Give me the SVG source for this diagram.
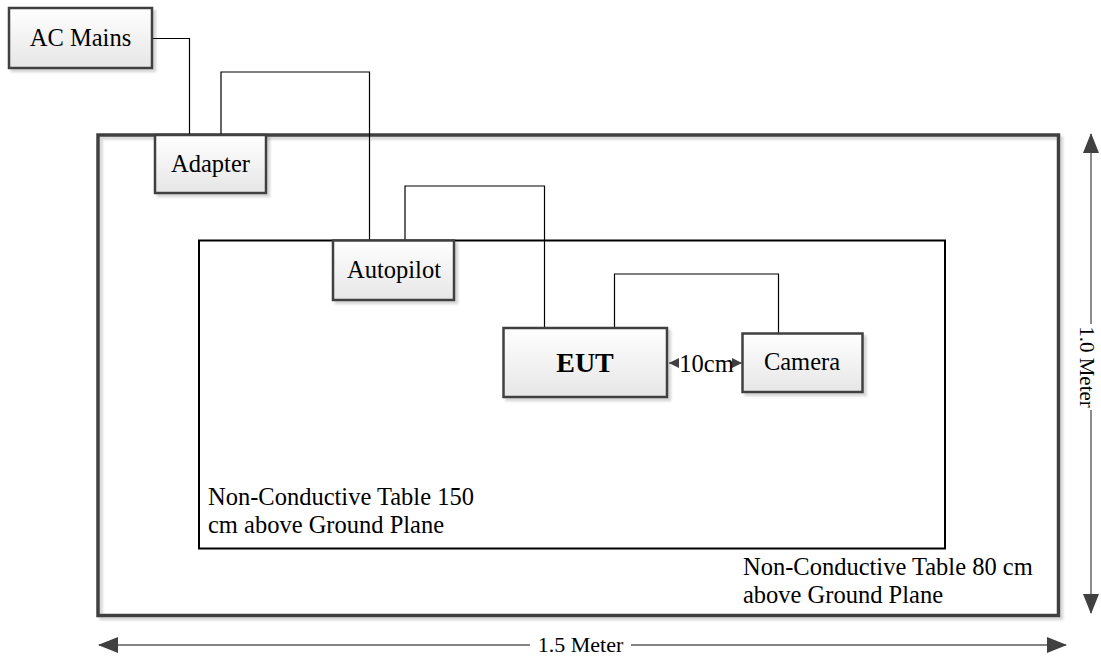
<svg xmlns="http://www.w3.org/2000/svg" width="1101" height="663" viewBox="0 0 1101 663">
<defs>
<linearGradient id="boxfill" x1="0" y1="0" x2="0" y2="1">
<stop offset="0" stop-color="#ffffff"/>
<stop offset="1" stop-color="#e6e6e6"/>
</linearGradient>
<filter id="sh" x="-10%" y="-10%" width="130%" height="130%">
<feDropShadow dx="3" dy="3" stdDeviation="1" flood-color="#000000" flood-opacity="0.16"/>
</filter>
<marker id="dimArrow" viewBox="0 0 20 16" refX="19" refY="8" markerWidth="20" markerHeight="16" markerUnits="userSpaceOnUse" orient="auto-start-reverse">
<path d="M0,0 L20,8 L0,16 Z" fill="#404040"/>
</marker>
<marker id="smallArrow" viewBox="0 0 10 10" refX="10" refY="5" markerWidth="10" markerHeight="10" markerUnits="userSpaceOnUse" orient="auto-start-reverse">
<path d="M0,0 L10,5 L0,10 Z" fill="#404040"/>
</marker>
</defs>
<style>
.box { fill: url(#boxfill); stroke: #404040; stroke-width: 2.5; filter: url(#sh); }
.lbl { font-family: "Liberation Serif", "Times New Roman", serif; font-size: 24.5px; fill: #000; }
.mid { text-anchor: middle; }
.wire { fill: none; stroke: #000; stroke-width: 1.2; }
.dim { fill: none; stroke: #5a5a5a; stroke-width: 1.4; }
</style>
<rect width="1101" height="663" fill="#ffffff"/>

<g id="outer-table">
<rect x="98" y="135" width="960.5" height="480.5" fill="none" stroke="#404040" stroke-width="3.5" filter="url(#sh)"/>
<text class="lbl" x="743" y="575">Non-Conductive Table 80 cm</text>
<text class="lbl" x="743" y="603">above Ground Plane</text>
</g>

<g id="inner-table">
<rect x="199" y="240.5" width="746" height="308" fill="none" stroke="#000" stroke-width="2"/>
<text class="lbl" x="208" y="505">Non-Conductive Table 150</text>
<text class="lbl" x="208" y="533">cm above Ground Plane</text>
</g>

<g id="connectors">
<path class="wire" d="M152,38.5 H189.5 V135"/>
<path class="wire" d="M221,135 V72 H369.5 V240.5"/>
<path class="wire" d="M405,240.5 V186 H544.5 V328"/>
<path class="wire" d="M614.5,328 V274 H778.5 V333.5"/>
<line x1="679" y1="363" x2="669" y2="363" stroke="#404040" stroke-width="1" marker-end="url(#smallArrow)"/>
<line x1="733" y1="363" x2="742" y2="363" stroke="#404040" stroke-width="1" marker-end="url(#smallArrow)"/>
<text class="lbl mid" x="706.5" y="372">10cm</text>
</g>

<g id="ac-mains">
<rect class="box" x="9" y="8" width="143" height="60"/>
<text class="lbl mid" x="80.5" y="46">AC Mains</text>
</g>

<g id="adapter">
<rect class="box" x="155" y="135" width="111" height="58"/>
<text class="lbl mid" x="210.5" y="172">Adapter</text>
</g>

<g id="autopilot">
<rect class="box" x="333" y="240.5" width="121" height="59.5"/>
<text class="lbl mid" x="394" y="278">Autopilot</text>
</g>

<g id="eut">
<rect class="box" x="503.5" y="328" width="163.5" height="69"/>
<text class="lbl mid" x="585" y="372" style="font-size:28px;font-weight:bold">EUT</text>
</g>

<g id="camera">
<rect class="box" x="742.5" y="333.5" width="120" height="58.5"/>
<text class="lbl mid" x="802" y="370">Camera</text>
</g>

<g id="dimensions">
<line class="dim" x1="530" y1="645" x2="99" y2="645" marker-end="url(#dimArrow)"/>
<line class="dim" x1="631" y1="645" x2="1066" y2="645" marker-end="url(#dimArrow)"/>
<text class="lbl mid" x="580.5" y="652" style="font-size:22px">1.5 Meter</text>
<line class="dim" x1="1091" y1="324" x2="1091" y2="134" marker-end="url(#dimArrow)"/>
<line class="dim" x1="1091" y1="410" x2="1091" y2="613" marker-end="url(#dimArrow)"/>
<text class="lbl mid" x="0" y="0" style="font-size:21px" transform="translate(1080,367) rotate(90)">1.0 Meter</text>
</g>
</svg>
